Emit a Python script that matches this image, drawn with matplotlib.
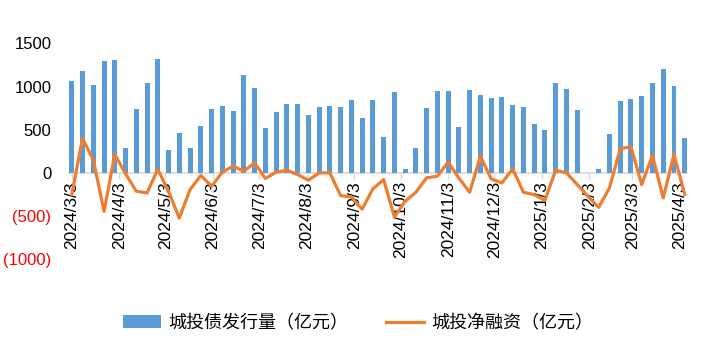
import pandas as pd
import matplotlib
matplotlib.use("Agg")
import matplotlib.pyplot as plt
import matplotlib.dates as mdates

# weekly data, first week 2024/3/3
weeks = pd.date_range("2024-03-03", periods=58, freq="7D")

issuance = [1065, 1180, 1019, 1298, 1310, 286, 740, 1042, 1321, 263,
            461, 286, 542, 740, 775, 718, 1136, 982, 516, 706,
            799, 799, 668, 764, 775, 764, 842, 636, 842, 415,
            939, 47, 287, 752, 950, 950, 535, 962, 904, 869,
            880, 787, 764, 566, 500, 1043, 974, 729, 0, 47,
            450, 834, 857, 892, 1043, 1206, 1008, 404]

net_financing = [-250, 400, 150, -445, 214, -10, -212, -232, 40, -215,
                 -523, -193, -30, -155, 8, 78, 20, 117, -65, 8,
                 31, -19, -85, 0, 0, -263, -278, -420, -185, -77,
                 -510, -329, -224, -57, -38, 125, -60, -224, 194, -69,
                 -116, 47, -224, -251, -318, 31, 0, -135, -271, -399,
                 -174, 280, 303, -135, 202, -290, 214, -250]

tick_labels = ["2024/3/3", "2024/4/3", "2024/5/3", "2024/6/3", "2024/7/3",
               "2024/8/3", "2024/9/3", "2024/10/3", "2024/11/3", "2024/12/3",
               "2025/1/3", "2025/2/3", "2025/3/3", "2025/4/3"]

y_ticks = [-1000, -500, 0, 500, 1000, 1500]

bar_name = "城投债发行量（亿元）"
line_name = "城投净融资（亿元）"

plt.rcParams['font.family'] = ['Liberation Sans', 'Noto Sans CJK SC']

fig = plt.figure(figsize=(7.09, 3.55), dpi=100)
ax = fig.add_axes([0.098, 0.2696, 0.871, 0.6084])

bars = ax.bar(weeks, issuance, width=3.2, color='#5B9BD5', label=bar_name, zorder=2)
line, = ax.plot(weeks, net_financing, color='#ED7D31', lw=2.3, label=line_name, zorder=3)

ax.set_ylim(-1000, 1500)
ax.set_xlim(weeks[0] - pd.Timedelta(days=1.5), weeks[-1] + pd.Timedelta(days=1.5))

# x axis sits on zero
for s in ['top', 'right', 'left']:
    ax.spines[s].set_visible(False)
ax.spines['bottom'].set_position(('data', 0))
ax.spines['bottom'].set_color('#D9D9D9')
ax.spines['bottom'].set_linewidth(1.2)
ax.spines['bottom'].set_zorder(1)

tick_dates = pd.to_datetime(tick_labels, format="%Y/%m/%d")
ax.set_xticks(mdates.date2num(tick_dates))
ax.set_xticklabels(tick_labels, rotation=90, fontsize=12.5, va='top', ha='center')
ax.tick_params(axis='x', length=4, width=1, color='#D9D9D9', pad=2)

ax.set_yticks(y_ticks)
ylabs = []
for v in y_ticks:
    ylabs.append("(%d)" % abs(v) if v < 0 else str(v))
ax.set_yticklabels(ylabs, fontsize=12)
for lab, v in zip(ax.get_yticklabels(), y_ticks):
    lab.set_color('red' if v < 0 else 'black')
ax.tick_params(axis='y', length=0, pad=13)

fig.legend([bars, line], [bar_name, line_name], loc='center',
           bbox_to_anchor=(0.505, 0.09), ncol=2, frameon=False,
           prop={'family': ['Noto Sans CJK SC'], 'size': 13},
           handlelength=2.1, handletextpad=0.4, columnspacing=2.1)

fig.savefig("out.png", dpi=100)
